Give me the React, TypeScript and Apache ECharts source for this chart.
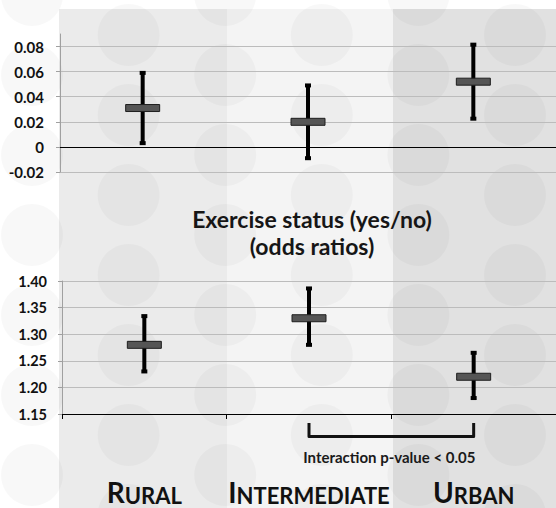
import React, { useEffect, useRef } from "react";
import * as echarts from "echarts";

const CATEGORIES = ["Rural", "Intermediate", "Urban"];
const TOP_MEAN = [0.031, 0.02, 0.052];
const TOP_LOW = [0.003, -0.009, 0.0225];
const TOP_HIGH = [0.059, 0.049, 0.0815];
const BOTTOM_MEAN = [1.28, 1.33, 1.22];
const BOTTOM_LOW = [1.23, 1.28, 1.18];
const BOTTOM_HIGH = [1.334, 1.386, 1.265];
const TOP_TICKS = [-0.02, 0, 0.02, 0.04, 0.06, 0.08];
const BOTTOM_TICKS = [1.15, 1.2, 1.25, 1.3, 1.35, 1.4];
const TITLE_LINES = ["Exercise status (yes/no)", "(odds ratios)"];
const BRACKET_FROM = 1;
const BRACKET_TO = 2;
const BRACKET_NOTE = "Interaction p-value < 0.05";

const FONT = "Lato, 'Open Sans', 'DejaVu Sans', sans-serif";

function errorBarRenderer(params: any, api: any) {
  const x = api.value(0);
  const pm = api.coord([x, api.value(1)]);
  const pl = api.coord([x, api.value(2)]);
  const ph = api.coord([x, api.value(3)]);
  const cx = pm[0];
  return {
    type: "group",
    children: [
      {
        type: "line",
        shape: { x1: cx, y1: ph[1], x2: cx, y2: pl[1] },
        style: { stroke: "#000", lineWidth: 4 },
      },
      {
        type: "rect",
        shape: { x: cx - 3, y: ph[1] - 2, width: 6, height: 4 },
        style: { fill: "#000" },
      },
      {
        type: "rect",
        shape: { x: cx - 3, y: pl[1] - 2, width: 6, height: 4 },
        style: { fill: "#000" },
      },
      {
        type: "rect",
        shape: { x: cx - 17, y: pm[1] - 3.5, width: 34, height: 7 },
        style: { fill: "#555555", stroke: "#1e1e1e", lineWidth: 1 },
      },
    ],
  };
}

function bracketRenderer(params: any, api: any) {
  const base = api.value(1);
  const p1 = api.coord([api.value(0), base]);
  const p2 = api.coord([api.value(2), base]);
  const y0 = p1[1];
  return {
    type: "group",
    children: [
      {
        type: "polyline",
        shape: {
          points: [
            [p1[0], y0 + 9],
            [p1[0], y0 + 22.5],
            [p2[0], y0 + 22.5],
            [p2[0], y0 + 9],
          ],
        },
        style: { stroke: "#111", lineWidth: 3, fill: "none", lineJoin: "round" },
      },
      {
        type: "text",
        x: (p1[0] + p2[0]) / 2 - 2,
        y: y0 + 43,
        style: {
          text: BRACKET_NOTE,
          fontFamily: FONT,
          fontSize: 15,
          fontWeight: "bold",
          fill: "#1a1a1a",
          align: "center",
          verticalAlign: "middle",
        },
      },
    ],
  };
}

function buildBackground() {
  const els: any[] = [];
  els.push({ type: "rect", z: -20, shape: { x: 0, y: 0, width: 556, height: 508 }, style: { fill: "#ffffff" } });
  els.push({ type: "rect", z: -19, shape: { x: 59, y: 9, width: 168, height: 499 }, style: { fill: "#ebebeb" } });
  els.push({ type: "rect", z: -19, shape: { x: 227, y: 9, width: 166, height: 499 }, style: { fill: "#f4f4f4" } });
  els.push({ type: "rect", z: -19, shape: { x: 393, y: 9, width: 163, height: 499 }, style: { fill: "#e1e1e1" } });
  for (let i = 0; i < 6; i++) {
    const cx = 32 + 96.6 * i;
    const offset = i % 2 === 0 ? -5 : 35;
    for (let j = 0; j < 7; j++) {
      const cy = offset + 80 * j;
      els.push({
        type: "circle",
        z: -18,
        shape: { cx, cy, r: 31 },
        style: { fill: "rgba(0,0,0,0.028)" },
      });
    }
  }
  els.push({
    type: "text",
    z: 10,
    x: 312,
    y: 232,
    style: {
      text: TITLE_LINES.join("\n"),
      fontFamily: FONT,
      fontSize: 23,
      fontWeight: "bold",
      lineHeight: 27,
      fill: "#161616",
      align: "center",
      verticalAlign: "middle",
    },
  });
  return els;
}

export default function App() {
  const ref = useRef<HTMLDivElement>(null);
  useEffect(() => {
    if (!ref.current) return;
    const chart = echarts.init(ref.current, undefined, { renderer: "svg" });
    const gridLine = { show: true, lineStyle: { color: "#bcbcbc", width: 1 } };
    const option: any = {
      animation: false,
      backgroundColor: "transparent",
      graphic: { elements: buildBackground() },
      grid: [
        { left: 60, top: 34, width: 500, height: 138, containLabel: false },
        { left: 62, top: 281, width: 497, height: 133, containLabel: false },
      ],
      xAxis: [
        {
          type: "category",
          gridIndex: 0,
          data: CATEGORIES,
          boundaryGap: true,
          axisLine: { show: true, onZero: true, lineStyle: { color: "#000", width: 1 } },
          axisTick: { show: false },
          axisLabel: { show: false },
          splitLine: { show: false },
        },
        {
          type: "category",
          gridIndex: 1,
          data: CATEGORIES,
          boundaryGap: true,
          axisLine: { show: true, onZero: false, lineStyle: { color: "#000", width: 1 } },
          axisTick: { show: true, length: 5, lineStyle: { color: "#000" } },
          splitLine: { show: false },
          axisLabel: {
            show: true,
            margin: 62,
            formatter: (v: string) => `{a|${v.charAt(0).toUpperCase()}}{b|${v.slice(1).toUpperCase()}}`,
            rich: {
              a: { fontFamily: FONT, fontSize: 28, fontWeight: "bold", color: "#111", lineHeight: 30, verticalAlign: "bottom" },
              b: { fontFamily: FONT, fontSize: 22, fontWeight: "bold", color: "#111", lineHeight: 30, verticalAlign: "bottom" },
            },
          },
        },
      ],
      yAxis: [
        {
          type: "value",
          gridIndex: 0,
          min: TOP_TICKS[0],
          max: 0.09,
          interval: 0.02,
          axisLine: { show: true, lineStyle: { color: "#a0a0a0" } },
          axisTick: { show: true, length: 4, lineStyle: { color: "#a0a0a0" }, customValues: TOP_TICKS },
          splitLine: gridLine,
          axisLabel: {
            margin: 16,
            customValues: TOP_TICKS,
            fontFamily: FONT,
            fontSize: 15,
            fontWeight: "bold",
            color: "#111",
            formatter: (v: number) => (Math.abs(v) < 1e-9 ? "0" : v.toFixed(2)),
          },
        },
        {
          type: "value",
          gridIndex: 1,
          min: BOTTOM_TICKS[0],
          max: BOTTOM_TICKS[BOTTOM_TICKS.length - 1],
          interval: 0.05,
          axisLine: { show: true, lineStyle: { color: "#a0a0a0" } },
          axisTick: { show: true, length: 4, lineStyle: { color: "#a0a0a0" } },
          splitLine: gridLine,
          axisLabel: {
            margin: 15,
            fontFamily: FONT,
            fontSize: 14.5,
            fontWeight: "bold",
            color: "#111",
            formatter: (v: number) => v.toFixed(2),
          },
        },
      ],
      series: [
        {
          type: "custom",
          xAxisIndex: 0,
          yAxisIndex: 0,
          renderItem: errorBarRenderer,
          encode: { x: 0, y: [1, 2, 3] },
          data: CATEGORIES.map((_, i) => [i, TOP_MEAN[i], TOP_LOW[i], TOP_HIGH[i]]),
          z: 5,
          silent: true,
        },
        {
          type: "custom",
          xAxisIndex: 1,
          yAxisIndex: 1,
          renderItem: errorBarRenderer,
          encode: { x: 0, y: [1, 2, 3] },
          data: CATEGORIES.map((_, i) => [i, BOTTOM_MEAN[i], BOTTOM_LOW[i], BOTTOM_HIGH[i]]),
          z: 5,
          silent: true,
        },
        {
          type: "custom",
          xAxisIndex: 1,
          yAxisIndex: 1,
          renderItem: bracketRenderer,
          clip: false,
          encode: { x: [0, 2], y: 1 },
          data: [[BRACKET_FROM, BOTTOM_TICKS[0], BRACKET_TO]],
          z: 5,
          silent: true,
        },
      ],
    };
    chart.setOption(option);
    return () => chart.dispose();
  }, []);
  return (
    <div
      ref={ref}
      style={{ position: "absolute", left: 0, top: 0, width: 556, height: 508, overflow: "hidden" }}
    />
  );
}
